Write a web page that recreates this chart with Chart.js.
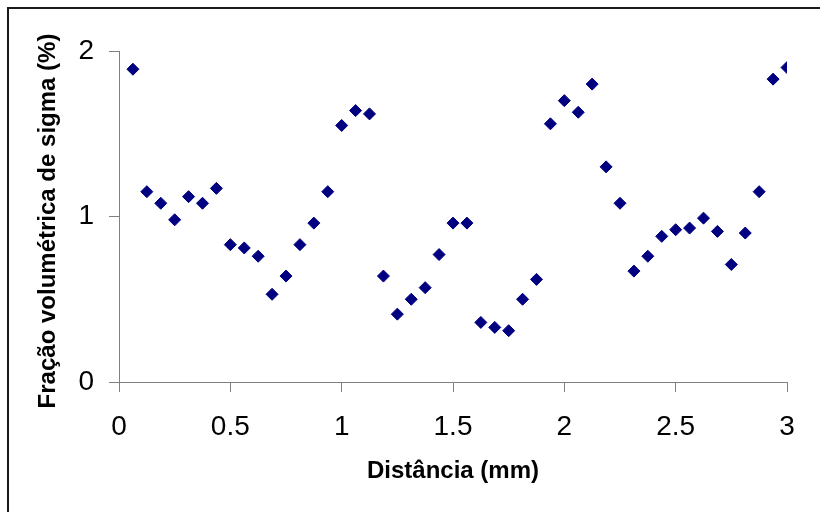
<!DOCTYPE html>
<html>
<head>
<meta charset="utf-8">
<script src="https://cdn.jsdelivr.net/npm/chart.js@4"></script>
<style>
  html, body { margin: 0; padding: 0; background: #fff; }
  #wrap { width: 820px; height: 512px; }
</style>
</head>
<body>
<div id="wrap"><canvas id="chart" width="820" height="512"></canvas></div>
<script>
// distance (mm): one reading every 1/16 mm
const distancias = [
  0.0625, 0.125, 0.1875, 0.25, 0.3125, 0.375, 0.4375, 0.5,
  0.5625, 0.625, 0.6875, 0.75, 0.8125, 0.875, 0.9375, 1.0,
  1.0625, 1.125, 1.1875, 1.25, 1.3125, 1.375, 1.4375, 1.5,
  1.5625, 1.625, 1.6875, 1.75, 1.8125, 1.875, 1.9375, 2.0,
  2.0625, 2.125, 2.1875, 2.25, 2.3125, 2.375, 2.4375, 2.5,
  2.5625, 2.625, 2.6875, 2.75, 2.8125, 2.875, 2.9375, 3.0
];

// volume fraction of sigma (%)
const fracaoSigma = [
  1.89, 1.15, 1.08, 0.98, 1.12, 1.08, 1.17, 0.83,
  0.81, 0.76, 0.53, 0.64, 0.83, 0.96, 1.15, 1.55,
  1.64, 1.62, 0.64, 0.41, 0.50, 0.57, 0.77, 0.96,
  0.96, 0.36, 0.33, 0.31, 0.50, 0.62, 1.56, 1.70,
  1.63, 1.80, 1.30, 1.08, 0.67, 0.76, 0.88, 0.92,
  0.93, 0.99, 0.91, 0.71, 0.90, 1.15, 1.83, 1.90
];

const xTitle = "Distância (mm)";
const yTitle = "Fração volumétrica de sigma (%)";

const AXIS_GRAY = "#808080";
const MARKER = "#000080";

const points = distancias.map((d, i) => ({ x: d, y: fracaoSigma[i] }));

function tickText(value) {
  return String(Number(value.toFixed(2)));
}

// white background and the outer frame
const framePlugin = {
  id: "frame",
  beforeDraw(chart) {
    const ctx = chart.ctx;
    ctx.save();
    ctx.fillStyle = "#fff";
    ctx.fillRect(0, 0, chart.width, chart.height);
    ctx.strokeStyle = "#1a1a1a";
    ctx.lineWidth = 2;
    ctx.strokeRect(8, 8, 1000, 1000);
    ctx.restore();
  }
};

// axis titles, placed like the original
const titlesPlugin = {
  id: "titles",
  afterDraw(chart) {
    const ctx = chart.ctx;
    const area = chart.chartArea;
    ctx.save();
    ctx.fillStyle = "#000";
    ctx.font = "bold 24px 'Liberation Sans', Arial, sans-serif";
    ctx.textAlign = "center";
    ctx.textBaseline = "alphabetic";
    ctx.fillText(xTitle, (area.left + area.right) / 2, 478);

    ctx.translate(55, 221);
    ctx.rotate(-Math.PI / 2);
    ctx.fillText(yTitle, 0, 0);
    ctx.restore();
  }
};

new Chart(document.getElementById("chart"), {
  type: "scatter",
  data: {
    datasets: [{
      data: points,
      pointStyle: "rectRot",
      pointRadius: 6,
      pointHoverRadius: 6,
      backgroundColor: MARKER,
      borderColor: MARKER,
      borderWidth: 1
    }]
  },
  options: {
    responsive: false,
    animation: false,
    events: [],
    layout: { padding: { top: 51, right: 33, left: 0, bottom: 0 } },
    plugins: {
      legend: { display: false },
      tooltip: { enabled: false }
    },
    scales: {
      x: {
        type: "linear",
        min: 0,
        max: 3,
        afterFit(scale) { scale.height = 130; },
        border: { display: true, color: AXIS_GRAY, width: 1 },
        grid: {
          drawOnChartArea: false,
          drawTicks: true,
          tickLength: 10,
          color: AXIS_GRAY
        },
        ticks: {
          stepSize: 0.5,
          color: "#000",
          padding: 18,
          maxRotation: 0,
          callback: tickText,
          font: { family: "'Liberation Sans', Arial, sans-serif", size: 28 }
        }
      },
      y: {
        type: "linear",
        min: 0,
        max: 2,
        afterFit(scale) { scale.width = 119; },
        border: { display: true, color: AXIS_GRAY, width: 1 },
        grid: {
          drawOnChartArea: false,
          drawTicks: true,
          tickLength: 10,
          color: AXIS_GRAY
        },
        ticks: {
          stepSize: 1,
          color: "#000",
          padding: 15,
          callback: tickText,
          font: { family: "'Liberation Sans', Arial, sans-serif", size: 28 }
        }
      }
    }
  },
  plugins: [framePlugin, titlesPlugin]
});
</script>
</body>
</html>
